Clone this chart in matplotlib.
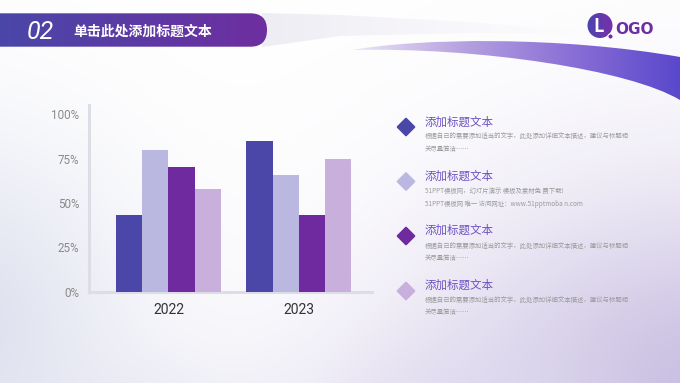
import numpy as np
import matplotlib
matplotlib.use("Agg")
import matplotlib.pyplot as plt
from matplotlib.patches import FancyBboxPatch, Polygon, Circle, PathPatch
from matplotlib.path import Path
from matplotlib.colors import LinearSegmentedColormap, to_rgb

plt.rcParams['font.family'] = ['Noto Sans CJK SC', 'DejaVu Sans']

# ---------------- data ----------------
years = ["2022", "2023"]
series1 = [0.43, 0.85]
series2 = [0.80, 0.66]
series3 = [0.70, 0.43]
series4 = [0.58, 0.75]
series_values = [series1, series2, series3, series4]
series_colors = ["#4a47a8", "#bab8e0", "#6e2a9e", "#c9afdc"]
ytick_values = [0, 0.25, 0.5, 0.75, 1.0]
ytick_labels = ["0%", "25%", "50%", "75%", "100%"]

header_number = "02"
header_title = "单击此处添加标题文本"
item_titles = ["添加标题文本", "添加标题文本", "添加标题文本", "添加标题文本"]
item_lines = [
    ["根据自己的需要添加适当的文字，此处添加详细文本描述，建议与标题相", "关尽量简洁……"],
    ["51PPT模板网，幻灯片演示 模板及素材免 费下载!", "51PPT模板网 唯一 访问网址：www.51pptmoba n.com"],
    ["根据自己的需要添加适当的文字，此处添加详细文本描述，建议与标题相", "关尽量简洁……"],
    ["根据自己的需要添加适当的文字，此处添加详细文本描述，建议与标题相", "关尽量简洁……"],
]

W, H = 680, 383
fig = plt.figure(figsize=(W / 100, H / 100), dpi=100)

# ---------------- background ----------------
bg = fig.add_axes([0, 0, 1, 1])
bg.set_xlim(0, W)
bg.set_ylim(H, 0)
bg.axis("off")

yy, xx = np.mgrid[0:H, 0:W].astype(float)
img = np.ones((H, W, 3))

def blob(img, cx, cy, rx, ry, color, strength):
    d2 = ((xx - cx) / rx) ** 2 + ((yy - cy) / ry) ** 2
    w = strength * np.exp(-d2)
    c = np.array(to_rgb(color))
    return img * (1 - w[..., None]) + c * w[..., None]

img = blob(img, -40, 330, 170, 190, "#d9dcec", 0.85)
img = blob(img, 720, 420, 300, 230, "#c6bbe0", 1.0)
img = blob(img, 470, 440, 160, 100, "#ddd8ee", 0.8)
img = blob(img, 120, 420, 160, 70, "#e2e3f0", 0.6)
bg.imshow(img, extent=[0, W, H, 0], aspect="auto", zorder=0, interpolation="bilinear")

def grad_fill(ax, x0, x1, y0, y1, c0, c1, clip, alpha0=1.0, alpha1=1.0, z=2):
    n = 256
    cmap = LinearSegmentedColormap.from_list("g", [c0, c1])
    g = np.linspace(0, 1, n)[None, :]
    rgba = cmap(g)
    rgba[..., 3] = np.linspace(alpha0, alpha1, n)[None, :]
    im = ax.imshow(rgba, extent=[x0, x1, y1, y0], aspect="auto", zorder=z,
                   interpolation="bilinear")
    im.set_clip_path(clip)
    return im

# faint grey swoosh behind header
fv = [(262, 13), (340, 15), (470, 22), (600, 33), (470, 33), (340, 36), (262, 47), (262, 13)]
fpatch = Polygon(fv, closed=True, facecolor="none", edgecolor="none")
bg.add_patch(fpatch)
grad_fill(bg, 262, 600, 13, 47, "#ecebf3", "#f2f0f7", fpatch, 0.9, 0.0, z=1)

# header bar
hbar = FancyBboxPatch((-30, 13.3), 297, 33.4,
                      boxstyle="round,pad=0,rounding_size=16.7",
                      facecolor="none", edgecolor="none")
bg.add_patch(hbar)
grad_fill(bg, 0, 268, 13, 47, "#4a47a8", "#6e2ea0", hbar)
bg.text(40, 32, header_number, color="white", fontsize=18, style="italic",
        family=["Roboto", "DejaVu Sans"],
        ha="center", va="center", zorder=5)
bg.text(73, 31.5, header_title, color="white", fontsize=10, fontweight="bold",
        ha="left", va="center", zorder=5)

# purple swoosh
verts = [(352, 50), (420, 38), (560, 36), (680, 57),
         (680, 100),
         (630, 70), (480, 47), (352, 50), (352, 50)]
codes = [Path.MOVETO, Path.CURVE4, Path.CURVE4, Path.CURVE4,
         Path.LINETO,
         Path.CURVE4, Path.CURVE4, Path.CURVE4, Path.CLOSEPOLY]
sw = PathPatch(Path(verts, codes), facecolor="none", edgecolor="none")
bg.add_patch(sw)
cmap_sw = LinearSegmentedColormap.from_list("sw", ["#ece6f7", "#b6a2e0", "#8a6fd6", "#5a48cc"])
g = cmap_sw(np.linspace(0, 1, 256))[None, :, :]
im = bg.imshow(g, extent=[352, 680, 101, 35], aspect="auto", zorder=2, interpolation="bilinear")
im.set_clip_path(sw)

# logo
lc = Circle((600, 25.5), 12.5, facecolor="none", edgecolor="none")
bg.add_patch(lc)
grad_fill(bg, 587, 613, 13, 38, "#4a45b0", "#7a2fa8", lc, z=3)
bg.text(599, 26, "L", color="white", fontsize=13, fontweight="bold",
        ha="center", va="center", zorder=5)
bg.add_patch(Circle((610.5, 36.5), 2.6, facecolor="#6a2ea0", edgecolor="white", lw=0.8, zorder=6))
bg.text(615, 29, "OGO", color="#6b2fa3", fontsize=11, fontweight="bold",
        family=["DejaVu Sans"], ha="left", va="center", zorder=5)

# right list
diamond_y = [127, 181.5, 236, 291]
title_y = [122.5, 176, 230, 285]
line1_y = [136, 191, 245.5, 300]
line2_y = [149.3, 203.7, 258.3, 312.3]
for i in range(4):
    cx, cy, r = 406, diamond_y[i], 8.3
    bg.add_patch(Polygon([(cx, cy - r), (cx + r, cy), (cx, cy + r), (cx - r, cy)],
                         closed=True, facecolor=series_colors[i],
                         edgecolor=series_colors[i], lw=1.5, joinstyle="round", zorder=4))
    bg.text(425, title_y[i], item_titles[i], color="#6d52c2", fontsize=8.3,
            ha="left", va="center", zorder=5)
    bg.text(425, line1_y[i], item_lines[i][0], color="#9a9a9a", fontsize=4.6,
            ha="left", va="center", zorder=5)
    bg.text(425, line2_y[i], item_lines[i][1], color="#9a9a9a", fontsize=4.6,
            ha="left", va="center", zorder=5)

# ---------------- chart ----------------
px_left, px_right, px_top, px_bottom = 89, 372, 105, 292
ax = fig.add_axes([px_left / W, (H - px_bottom) / H,
                   (px_right - px_left) / W, (px_bottom - px_top) / H])
ax.patch.set_alpha(0)
x = np.arange(len(years))
w = 0.201
offsets = [-1.5 * w, -0.5 * w, 0.5 * w, 1.5 * w]
for vals, off, col in zip(series_values, offsets, series_colors):
    ax.bar(x + off, vals, width=w, color=col, zorder=3)

ax.set_xlim(-0.61, 1.562)
ax.set_ylim(0, 187 / 178)
ax.set_yticks(ytick_values)
ax.set_yticklabels(ytick_labels)
ax.set_xticks(x)
ax.set_xticklabels(years)
for s in ["top", "right"]:
    ax.spines[s].set_visible(False)
for s in ["left", "bottom"]:
    ax.spines[s].set_color("#dcdde7")
    ax.spines[s].set_linewidth(2.2)
ax.tick_params(axis="both", length=0)
ax.tick_params(axis="y", pad=7, labelcolor="#8a8a8a", labelsize=8.4)
ax.tick_params(axis="x", pad=8, labelcolor="#333333", labelsize=10)
for lab in ax.get_yticklabels() + ax.get_xticklabels():
    lab.set_family(["Roboto", "DejaVu Sans"])

fig.savefig("out.png", dpi=100)
